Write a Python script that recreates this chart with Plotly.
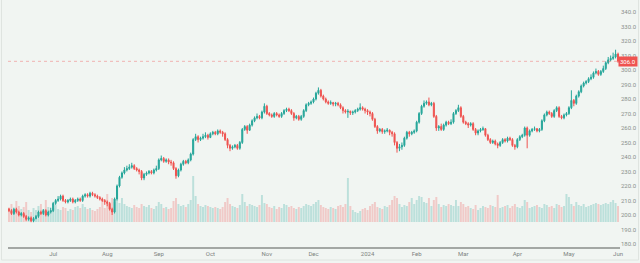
import plotly.graph_objects as go

# ---------------- data ----------------
closes = [
    203, 201, 204, 202, 200, 201, 199, 197, 198, 196,
    197.5, 199, 202, 201, 203, 200, 202, 203, 208, 210,
    211, 213, 210, 209, 210, 211, 209, 210, 211, 210,
    213, 214, 213, 215, 214, 213, 212, 211, 210, 209,
    208, 204, 202, 211, 220, 226, 229, 231, 232, 233,
    234, 232, 231, 230, 225.5, 228, 229, 230, 229, 231,
    232, 238, 239, 237, 238, 236.5, 236, 232, 227, 231,
    235, 237, 236, 238, 242, 252, 254, 252, 253, 254,
    255, 253.5, 256, 257, 256, 258, 257, 256, 252, 248,
    246, 247, 248, 246, 250, 259, 261, 258.5, 262, 265,
    267, 268, 267, 271, 275, 270, 269, 268, 270, 269,
    268, 270, 272, 273, 272, 270, 267, 268, 266, 268,
    272, 276, 277, 278, 280, 284, 286, 282, 280, 278,
    277, 277.5, 276.5, 277, 276, 274, 272, 271, 271.5, 270.5,
    271, 272, 273, 274, 273, 272, 271, 270, 266, 261,
    258, 259, 257.5, 258, 258.5, 257, 256, 250, 246, 247,
    248, 253, 257, 256, 257, 258, 264, 270, 275, 277,
    278, 276, 277, 268, 260, 261, 259, 262, 264, 263,
    264, 270, 272, 274, 268, 264, 263, 262, 263, 259,
    256.5, 258, 259, 259.5, 255, 252, 250, 251, 249, 248,
    250, 252, 251, 253, 252, 248, 247, 252, 254, 255,
    260, 255, 258, 259, 259.5, 258, 259, 265, 269, 271,
    270, 268, 272, 274, 268, 267, 269, 270, 274, 279,
    277, 282, 285, 289, 291, 292, 294, 295, 298, 299,
    297, 299, 301, 305, 307, 308, 309, 311, 306,
]
opens = [
    204, 203, 201, 204, 202, 200, 201, 199, 197, 198,
    196, 197.5, 199, 202, 201, 203, 200, 202, 203, 208,
    210, 211, 213, 210, 209, 210, 211, 209, 210, 211,
    210, 213, 214, 213, 215, 214, 213, 212, 211, 210,
    209, 208, 204, 202, 211, 220, 226, 229, 231, 232,
    233, 234, 232, 231, 230, 225.5, 228, 229, 230, 229,
    231, 232, 238, 239, 237, 238, 236.5, 236, 232, 227,
    231, 235, 237, 236, 238, 242, 252, 254, 252, 253,
    254, 255, 253.5, 256, 257, 256, 258, 257, 256, 252,
    248, 246, 247, 248, 246, 250, 259, 261, 258.5, 262,
    265, 267, 268, 267, 271, 275, 270, 269, 268, 270,
    269, 268, 270, 272, 273, 272, 270, 267, 268, 266,
    268, 272, 276, 277, 278, 280, 284, 286, 282, 280,
    278, 277, 277.5, 276.5, 277, 276, 274, 272, 271, 271.5,
    270.5, 271, 272, 273, 274, 273, 272, 271, 270, 266,
    261, 258, 259, 257.5, 258, 258.5, 257, 256, 250, 246,
    247, 248, 253, 257, 256, 257, 258, 264, 270, 275,
    277, 278, 276, 277, 268, 260, 261, 259, 262, 264,
    263, 264, 270, 272, 274, 268, 264, 263, 262, 263,
    259, 256.5, 258, 259, 259.5, 255, 252, 250, 251, 249,
    248, 250, 252, 251, 253, 252, 248, 247, 252, 254,
    255, 260, 255, 258, 259, 259.5, 258, 259, 265, 269,
    271, 270, 268, 272, 274, 268, 267, 269, 270, 274,
    279, 277, 282, 285, 289, 291, 292, 294, 295, 298,
    299, 297, 299, 301, 305, 307, 308, 309, 311,
]
highs = [
    205, 204, 205, 205, 203, 202, 202, 200, 199, 199,
    198.5, 200, 203, 203, 204, 204, 203, 205, 209, 211,
    213, 214, 214, 211, 211, 212, 212, 211, 212, 212,
    214, 215, 215, 216, 216, 215, 214, 213, 212, 211,
    210, 209, 205, 212, 221, 227, 230, 233, 234, 235,
    236, 235, 233, 232, 231, 229, 230, 231, 231, 232,
    234, 239, 241, 240, 239, 239, 238, 237, 233, 232,
    236, 238, 238, 239, 243, 253, 256, 255, 254, 256,
    257, 256, 257, 258, 258, 259, 259, 258, 257, 253,
    249, 248, 249, 249, 251, 260, 262, 262, 263, 266,
    268, 270, 269, 272, 277, 276, 271, 270, 271, 271,
    270, 271, 273, 274, 274, 273, 271, 269, 269, 269,
    273, 277, 278, 279, 281, 285, 288, 287, 283, 281,
    279, 279, 278, 278, 278, 277, 275, 273, 273, 272,
    272, 273, 274, 277, 275, 274, 273, 272, 271, 267,
    262, 260, 260, 259, 260, 259, 258, 257, 251, 249,
    250, 254, 258, 258, 258, 259, 265, 271, 276, 279,
    279, 281, 278, 278, 269, 262, 263, 263, 265, 265,
    266, 271, 273, 276, 275, 269, 265, 264, 264, 264,
    260, 259, 260, 261, 260, 256, 253, 252, 252, 250,
    251, 253, 253, 254, 254, 253, 249, 253, 255, 256,
    261, 261, 259, 260, 261, 260, 260, 266, 270, 272,
    272, 271, 273, 275, 275, 269, 270, 271, 275, 286,
    280, 283, 286, 290, 292, 293, 295, 297, 299, 301,
    300, 300, 303, 306, 309, 310, 312, 314, 312,
]
lows = [
    202, 200, 200, 201, 199, 199, 198, 196, 196, 195,
    195, 197, 198, 200, 200, 199, 199, 201, 202, 207,
    209, 210, 209, 208, 208, 209, 208, 208, 209, 209,
    209, 212, 212, 212, 213, 212, 211, 210, 209, 207,
    206, 203, 200, 201, 210, 219, 225, 228, 230, 231,
    232, 231, 230, 228, 224, 224, 227, 228, 228, 228,
    230, 231, 237, 236, 236, 235, 234, 231, 225, 226,
    230, 234, 235, 235, 237, 241, 251, 250, 251, 252,
    253, 252, 253, 255, 255, 255, 256, 254, 251, 246,
    244, 245, 246, 245, 245, 249, 258, 256, 258, 261,
    264, 266, 266, 266, 270, 269, 268, 267, 267, 268,
    267, 267, 269, 271, 271, 269, 265, 266, 265, 265,
    267, 271, 275, 276, 277, 279, 283, 281, 279, 277,
    276, 276, 275, 275, 275, 273, 270, 270, 267, 269,
    269, 270, 271, 272, 272, 270, 269, 268, 265, 260,
    256, 257, 256, 256, 257, 255, 254, 248, 243, 244,
    245, 247, 252, 254, 255, 256, 257, 263, 269, 274,
    276, 275, 275, 267, 258, 258, 258, 258, 261, 262,
    262, 263, 269, 271, 267, 263, 262, 260, 261, 258,
    255, 255, 257, 258, 254, 251, 249, 249, 248, 246,
    247, 249, 250, 250, 251, 247, 245, 246, 251, 253,
    254, 246, 254, 257, 258, 257, 257, 258, 264, 268,
    269, 267, 267, 271, 267, 266, 266, 268, 269, 273,
    275, 276, 281, 284, 288, 290, 291, 293, 294, 297,
    296, 296, 298, 300, 304, 306, 307, 308, 305,
]
volumes = [
    14, 18, 12, 21, 16, 13, 15, 20, 12, 10, 14, 12, 16, 18, 13, 22, 15, 12, 14, 17,
    13, 12, 15, 14, 11, 13, 12, 15, 16, 14, 18, 15, 13, 14, 12, 11, 13, 15, 22, 14,
    28, 18, 24, 20, 22, 19, 24, 18, 16, 15, 14, 17, 15, 14, 18, 16, 15, 17, 14, 13,
    16, 20, 18, 14, 15, 13, 14, 21, 24, 18, 16, 17, 15, 18, 22, 46, 26, 18, 16, 15,
    17, 16, 15, 14, 15, 14, 13, 15, 20, 24, 18, 16, 15, 14, 17, 28, 20, 16, 18, 17,
    16, 15, 17, 27, 19, 18, 15, 14, 16, 13, 15, 14, 18, 17, 15, 16, 14, 13, 15, 14,
    16, 18, 17, 16, 18, 20, 22, 17, 15, 14, 13, 15, 14, 13, 16, 17, 15, 18, 44, 16,
    12, 10, 9, 11, 13, 14, 12, 16, 18, 20, 15, 14, 13, 16, 15, 17, 22, 26, 24, 18,
    15, 17, 16, 20, 24, 18, 22, 26, 25, 20, 19, 24, 16, 22, 25, 18, 15, 17, 16, 18,
    17, 16, 22, 16, 20, 18, 15, 16, 14, 13, 17, 12, 14, 16, 15, 14, 17, 16, 15, 27,
    14, 15, 16, 17, 14, 16, 18, 15, 14, 16, 22, 20, 14, 15, 16, 17, 15, 14, 18, 17,
    15, 16, 14, 18, 17, 15, 16, 28, 25, 18, 16, 20, 17, 16, 18, 15, 16, 17, 18, 19,
    18, 17, 18, 19, 18, 20, 22, 19, 16,
]
month_labels = ["Jul", "Aug", "Sep", "Oct", "Nov", "Dec", "2024", "Feb", "Mar", "Apr", "May", "Jun"]
month_start_index = [18, 40, 61, 82, 105, 124, 146, 166, 185, 207, 228, 248]
price_ticks = [180, 190, 200, 210, 220, 230, 240, 250, 260, 270, 280, 290, 300, 310, 320, 330, 340]

# ---------------- figure ----------------
UP = "#26a69a"
DOWN = "#ef5350"
BG = "#f1f5f2"

x = list(range(len(closes)))
vol_colors = [
    "rgba(38,166,154,0.26)" if c >= o else "rgba(239,83,80,0.26)"
    for o, c in zip(opens, closes)
]

fig = go.Figure()
fig.add_trace(go.Bar(
    x=x, y=volumes, marker=dict(color=vol_colors, line=dict(width=0)),
    yaxis="y", hoverinfo="skip", showlegend=False,
))
fig.add_trace(go.Candlestick(
    x=x, open=opens, high=highs, low=lows, close=closes, yaxis="y2",
    increasing=dict(line=dict(color=UP, width=1), fillcolor=UP),
    decreasing=dict(line=dict(color=DOWN, width=1), fillcolor=DOWN),
    whiskerwidth=0, showlegend=False,
))

last = closes[-1]
fig.add_shape(type="line", xref="paper", x0=0, x1=1, yref="y2", y0=last, y1=last,
              line=dict(color="rgba(239,83,80,0.5)", width=0.8, dash="dot"))
fig.add_annotation(xref="paper", x=1, yref="y2", y=last, text=f"{last:.1f}",
                   showarrow=False, xanchor="left", yanchor="middle", xshift=-2,
                   bgcolor=DOWN, font=dict(color="white", size=6, family="Roboto"),
                   borderpad=1)
# frame around the widget
fig.add_shape(type="rect", xref="paper", yref="paper",
              x0=(1.5 - 8) / 612, x1=(638.5 - 8) / 612,
              y0=(247 - 260) / 247, y1=(247 + 5) / 247,
              line=dict(color="#dfe4e0", width=1), layer="below")

fig.update_layout(
    width=640, height=263,
    margin=dict(l=8, r=20, t=0, b=16),
    paper_bgcolor=BG, plot_bgcolor=BG,
    bargap=0.2, boxgap=0.4,
    font=dict(family="Roboto", size=6, color="#8a908c"),
    xaxis=dict(
        range=[-0.4, 248.8], showgrid=False, zeroline=False,
        rangeslider=dict(visible=False),
        tickmode="array", tickvals=month_start_index, ticktext=month_labels,
        showline=True, linecolor="#a3a7a4", linewidth=1.5, ticks="",
        tickfont=dict(size=6, color="#7d837f"),
    ),
    yaxis=dict(range=[-25, 222], visible=False, fixedrange=True),
    yaxis2=dict(
        overlaying="y", side="right", range=[177.9, 348.3],
        showgrid=False, zeroline=False, showline=False,
        tickmode="array", tickvals=price_ticks,
        ticktext=[f"{v:.1f}" for v in price_ticks],
        tickfont=dict(size=6, color="#8a908c"), ticks="",
    ),
)

fig.write_html("out.html")
